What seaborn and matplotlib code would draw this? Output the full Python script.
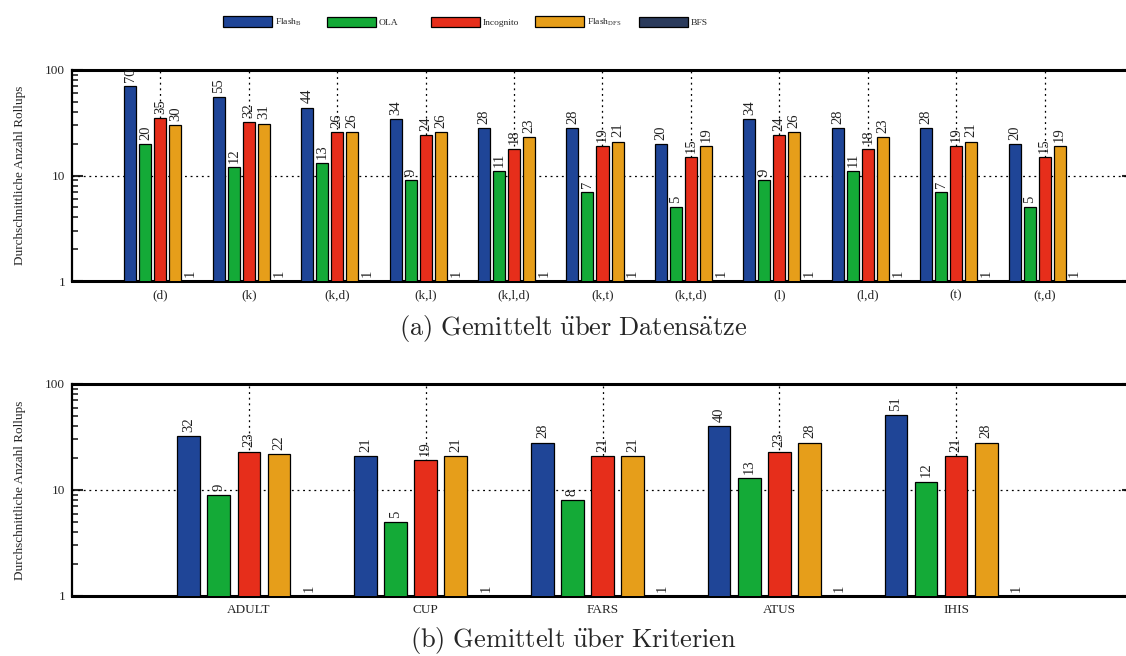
import matplotlib
matplotlib.use("Agg")
import matplotlib.pyplot as plt
import seaborn as sns
import pandas as pd
from matplotlib.patches import Patch

# ---- data -------------------------------------------------------------
methods = ["Flash$_\\mathrm{B}$", "OLA", "Incognito", "Flash$_\\mathrm{DFS}$", "BFS"]
colors = ["#1f4597", "#14aa37", "#e62e1b", "#e69e1a", "#2b3b5c"]

criteria = ["(d)", "(k)", "(k,d)", "(k,l)", "(k,l,d)", "(k,t)", "(k,t,d)",
            "(l)", "(l,d)", "(t)", "(t,d)"]
crit_flash_b = [70, 55, 44, 34, 28, 28, 20, 34, 28, 28, 20]
crit_ola = [20, 12, 13, 9, 11, 7, 5, 9, 11, 7, 5]
crit_incognito = [35, 32, 26, 24, 18, 19, 15, 24, 18, 19, 15]
crit_flash_dfs = [30, 31, 26, 26, 23, 21, 19, 26, 23, 21, 19]
crit_bfs = [1, 1, 1, 1, 1, 1, 1, 1, 1, 1, 1]

datasets = ["ADULT", "CUP", "FARS", "ATUS", "IHIS"]
ds_flash_b = [32, 21, 28, 40, 51]
ds_ola = [9, 5, 8, 13, 12]
ds_incognito = [23, 19, 21, 23, 21]
ds_flash_dfs = [22, 21, 21, 28, 28]
ds_bfs = [1, 1, 1, 1, 1]

y_label = "Durchschnittliche Anzahl Rollups"
caption_a = r"$\mathrm{(a)\ Gemittelt\ \ddot{u}ber\ Datens\ddot{a}tze}$"
caption_b = r"$\mathrm{(b)\ Gemittelt\ \ddot{u}ber\ Kriterien}$"


def long_frame(cats, series):
    rows = []
    for m, vals in zip(methods, series):
        for c, v in zip(cats, vals):
            rows.append({"cat": c, "method": m, "value": v})
    return pd.DataFrame(rows)


sns.set_theme(style="white")
plt.rcParams["font.family"] = ["Liberation Serif", "DejaVu Serif"]
plt.rcParams["mathtext.fontset"] = "custom"
plt.rcParams["mathtext.rm"] = "Liberation Serif"

fig = plt.figure(figsize=(11.26, 6.56), dpi=100)
left = 72 / 1126
width = (1133 - 72) / 1126
ax_a = fig.add_axes([left, 1 - 281 / 656, width, 211 / 656])
ax_b = fig.add_axes([left, 1 - 596 / 656, width, 212 / 656])

DOTS = (0, (1.5, 3))


def draw_panel(ax, cats, series, gap):
    df = long_frame(cats, series)
    sns.barplot(data=df, x="cat", y="value", hue="method", hue_order=methods,
                palette=colors, saturation=1, edgecolor="black",
                linewidth=0.9, width=0.85, gap=gap, errorbar=None, ax=ax,
                legend=False, zorder=3)
    ax.set_yscale("log")
    ax.set_ylim(1, 100)
    ax.set_xlim(-1, len(cats))
    for cont in ax.containers:
        ax.bar_label(cont, fmt="%d", rotation=90, padding=3, fontsize=10.5,
                     color="#222222")
    # dotted grid: horizontal at 10, vertical at group centres
    ax.axhline(10, color="black", linestyle=DOTS, linewidth=0.9, zorder=1)
    for i in range(len(cats)):
        ax.axvline(i, color="black", linestyle=DOTS, linewidth=0.9, zorder=1)
    ax.set_xlabel("")
    ax.set_ylabel(y_label, fontsize=9.5, labelpad=14)
    ax.set_yticks([1, 10, 100])
    ax.set_yticklabels(["1", "10", "100"])
    ax.tick_params(axis="x", length=0, labelsize=9.5, pad=6)
    ax.tick_params(axis="y", which="major", direction="in", length=8,
                   width=1.5, labelsize=9.5, left=True, right=True, pad=5)
    ax.tick_params(axis="y", which="minor", direction="in", length=4.5,
                   width=1.2, left=True, right=True)
    for side in ["top", "bottom"]:
        ax.spines[side].set_linewidth(2.2)
        ax.spines[side].set_color("black")
    ax.spines["left"].set_linewidth(1.6)
    ax.spines["left"].set_color("black")
    ax.spines["right"].set_visible(False)


draw_panel(ax_a, criteria,
           [crit_flash_b, crit_ola, crit_incognito, crit_flash_dfs, crit_bfs],
           gap=0.2)
draw_panel(ax_b, datasets,
           [ds_flash_b, ds_ola, ds_incognito, ds_flash_dfs, ds_bfs],
           gap=0.25)

# legend entries spread evenly along the top
for i, (m, c) in enumerate(zip(methods, colors)):
    h = Patch(facecolor=c, edgecolor="black", linewidth=0.9)
    fig.legend([h], [m], loc="center left",
               bbox_to_anchor=((216 + 104 * i) / 1126, 1 - 22 / 656),
               frameon=False, fontsize=6.8, handlelength=5.2,
               handleheight=1.4, handletextpad=0.35, borderpad=0.2)

fig.text(573 / 1126, 1 - 329 / 656, caption_a, ha="center", va="center",
         fontsize=19, math_fontfamily="cm")
fig.text(573 / 1126, 1 - 640 / 656, caption_b, ha="center", va="center",
         fontsize=19, math_fontfamily="cm")

fig.savefig("out.png", dpi=100)
